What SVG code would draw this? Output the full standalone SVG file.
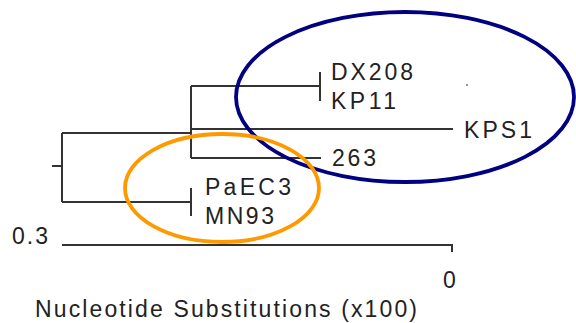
<svg xmlns="http://www.w3.org/2000/svg" width="576" height="323" viewBox="0 0 576 323">
<style>
.br{fill:none;stroke:#333;stroke-width:2;stroke-linecap:butt}
.t{font-family:"Liberation Sans",Arial,sans-serif;font-size:23px;fill:#222}
.ell{fill:none;stroke-width:3.8}
</style>
<rect width="576" height="323" fill="#fff"/>
<g id="connectors">
<path class="br" d="M52,166H62M62,133V202M62,133H191M62,202H191M191,188V216M191,86V158M191,86H320M320,72V101M191,129H453M191,158H321"/>
</g>
<g id="leaf-DX208"><text class="t" x="331" y="80" textLength="82" lengthAdjust="spacing">DX208</text></g>
<g id="leaf-KP11"><text class="t" x="331" y="109" textLength="65" lengthAdjust="spacing">KP11</text></g>
<g id="leaf-KPS1"><text class="t" x="464" y="138" textLength="68" lengthAdjust="spacing">KPS1</text></g>
<g id="leaf-263"><text class="t" x="332" y="166" textLength="44" lengthAdjust="spacing">263</text></g>
<g id="leaf-PaEC3"><text class="t" x="205" y="195" textLength="86" lengthAdjust="spacing">PaEC3</text></g>
<g id="leaf-MN93"><text class="t" x="205" y="224" textLength="69" lengthAdjust="spacing">MN93</text></g>
<g id="scale">
<path class="br" d="M62,245H452V252"/>
<text class="t" x="12" y="244" textLength="36" lengthAdjust="spacing">0.3</text>
<text class="t" x="443" y="288">0</text>
<text class="t" x="35" y="317" textLength="382" lengthAdjust="spacing">Nucleotide Substitutions (x100)</text>
</g>
<circle cx="467" cy="85" r="0.9" fill="#666"/>
<g id="group-blue"><ellipse class="ell" cx="405" cy="97" rx="169" ry="85" stroke="#000080"/></g>
<g id="group-orange"><ellipse class="ell" cx="222" cy="188" rx="97" ry="54" stroke="#FF9900"/></g>
</svg>
